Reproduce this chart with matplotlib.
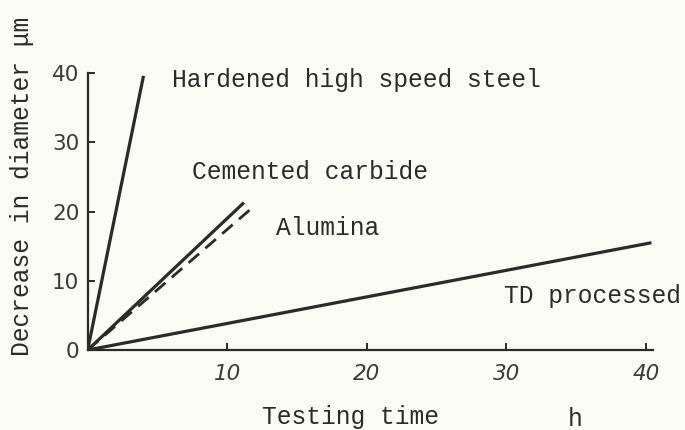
import matplotlib
matplotlib.use("Agg")
import matplotlib.pyplot as plt

# Data (end points of straight wear lines from the origin)
hss_x = [0, 4.0]
hss_y = [0, 39.6]
carbide_x = [0, 11.2]
carbide_y = [0, 21.3]
alumina_x = [0, 11.65]
alumina_y = [0, 20.3]
td_x = [0, 40.4]
td_y = [0, 15.5]

xticks = [10, 20, 30, 40]
yticks = [0, 10, 20, 30, 40]

bg = "#fbfbf5"
ink = "#2a2a2a"
mono = "Liberation Mono"

fig = plt.figure(figsize=(6.85, 4.3), dpi=100, facecolor=bg)
ax = fig.add_axes([0.128, 0.186, 0.825, 0.644], facecolor=bg)

ax.plot(hss_x, hss_y, color=ink, lw=2.3, solid_capstyle="butt")
ax.plot(carbide_x, carbide_y, color=ink, lw=2.3, solid_capstyle="butt")
ax.plot(alumina_x, alumina_y, color=ink, lw=2.0, ls=(0, (5, 3)))
ax.plot(td_x, td_y, color=ink, lw=2.3, solid_capstyle="butt")

ax.set_xlim(0, 40.5)
ax.set_ylim(0, 40)
for s in ["top", "right"]:
    ax.spines[s].set_visible(False)
for s in ["left", "bottom"]:
    ax.spines[s].set_color(ink)
    ax.spines[s].set_linewidth(1.6)

ax.set_xticks(xticks)
ax.set_yticks(yticks)
ax.tick_params(direction="in", length=5, width=1.4, color=ink)
ax.tick_params(axis="x", pad=10)
ax.tick_params(axis="y", pad=6)
ax.set_xticklabels([str(t) for t in xticks], fontsize=15.5, style="italic",
                   color="#3a3a3a", family="DejaVu Sans")
ax.set_yticklabels([str(t) for t in yticks], fontsize=15.5, color="#3a3a3a",
                   family="DejaVu Sans")

tk = dict(family=mono, fontsize=17.7, color=ink)
fig.text(172 / 685, 1 - 80 / 430, "Hardened high speed steel", va="center", ha="left", **tk)
fig.text(192 / 685, 1 - 172 / 430, "Cemented carbide", va="center", ha="left", **tk)
fig.text(276 / 685, 1 - 228 / 430, "Alumina", va="center", ha="left", **tk)
fig.text(681 / 685, 1 - 296 / 430, "TD processed", va="center", ha="right", **tk)
fig.text(262 / 685, 1 - 417 / 430, "Testing time", va="center", ha="left", **tk)
fig.text(568 / 685, 1 - 419 / 430, "h", va="center", ha="left", **tk)
fig.text(22 / 685, 1 - 186 / 430, "Decrease in diameter μm", va="center", ha="center",
         rotation=90, **tk)

fig.savefig("out.png", dpi=100, facecolor=bg)
